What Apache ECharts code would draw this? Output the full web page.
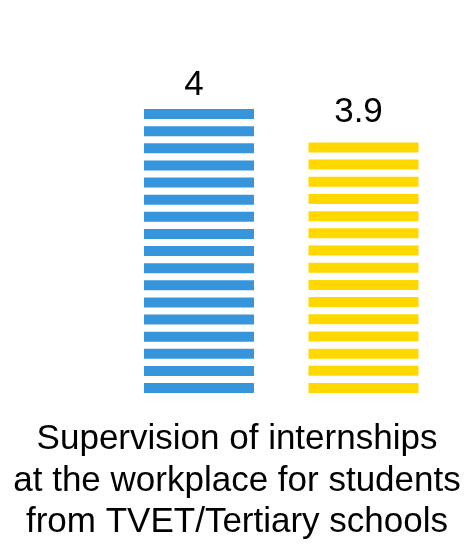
<!DOCTYPE html>
<html>
<head>
<meta charset="utf-8">
<script src="https://cdn.jsdelivr.net/npm/echarts@6/dist/echarts.min.js"></script>
<style>html,body{margin:0;padding:0;background:#fff}#c{width:470px;height:546px}</style>
</head>
<body>
<div id="c"></div>
<script>
var categories = ['Supervision of internships\nat the workplace for students\nfrom TVET/Tertiary schools'];
var seriesA = [4];
var seriesB = [3.9];
var colors = ['#3796DB', '#FFD800'];

var yMin = 3.15, yMax = 4;
var barW = 110, stripeH = 10, stripeGap = 7;
var font = '"Liberation Sans", Arial, sans-serif';

function stripeSeries(name, values, color, offsetPx, labelDist) {
  return {
    name: name,
    type: 'custom',
    data: values.map(function (v, i) { return [i, v]; }),
    encode: {x: 0, y: 1},
    renderItem: function (params, api) {
      var c = api.value(0), v = api.value(1);
      var pTop = api.coord([c, v]);
      var pBase = api.coord([c, yMin]);
      var cx = pTop[0] + offsetPx;
      var h = pBase[1] - pTop[1];
      var n = Math.max(1, Math.round((h + stripeGap) / (stripeH + stripeGap)));
      var step = n > 1 ? (h - stripeH) / (n - 1) : 0;
      var children = [];
      for (var i = 0; i < n; i++) {
        children.push({
          type: 'rect',
          shape: {x: cx - barW / 2, y: pTop[1] + i * step, width: barW, height: stripeH},
          style: {fill: color}
        });
      }
      children.push({
        type: 'text',
        x: cx - 5,
        y: pTop[1] - labelDist,
        style: {
          text: String(v),
          fill: '#000',
          fontSize: 35,
          fontFamily: font,
          align: 'center',
          verticalAlign: 'bottom'
        }
      });
      return {type: 'group', children: children};
    }
  };
}

var chart = echarts.init(document.getElementById('c'), null, {renderer: 'canvas'});
chart.setOption({
  animation: false,
  backgroundColor: '#fff',
  grid: {left: 143, right: 50, top: 109, bottom: 153, containLabel: false, outerBoundsMode: 'none'},
  xAxis: {
    type: 'category',
    data: categories,
    axisLine: {show: false},
    axisTick: {show: false},
    splitLine: {show: false},
    axisLabel: {
      margin: 26,
      fontSize: 35,
      lineHeight: 41.5,
      color: '#000',
      fontFamily: font,
      padding: [0, 89, 0, 0],
      interval: 0
    }
  },
  yAxis: {
    type: 'value',
    min: yMin,
    max: yMax,
    show: false,
    splitLine: {show: false}
  },
  series: [
    stripeSeries('A', seriesA, colors[0], -82.5, 6),
    stripeSeries('B', seriesB, colors[1], 82, 13)
  ]
});
</script>
</body>
</html>
